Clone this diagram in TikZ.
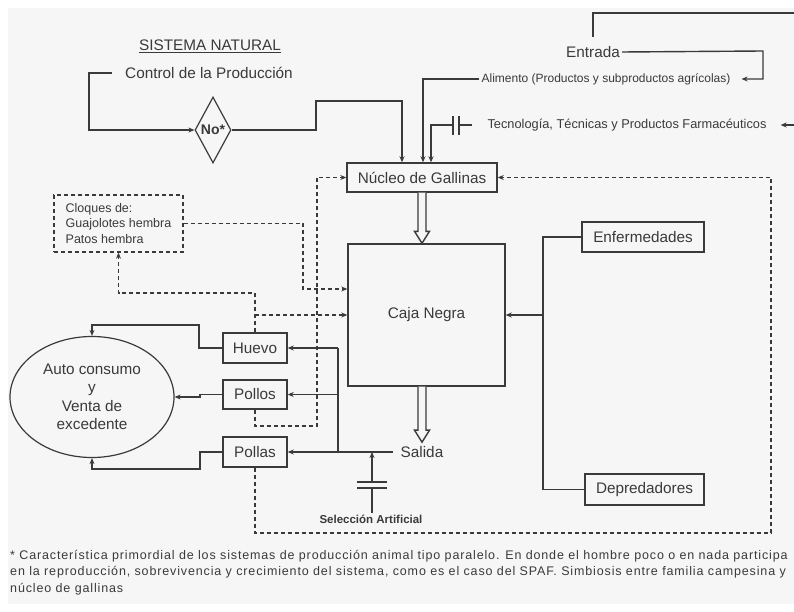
\documentclass[tikz,border=0pt]{standalone}
\usepackage{fontspec}
\setmainfont{Liberation Sans}
\usetikzlibrary{shapes.geometric,arrows.meta}
\definecolor{ink}{RGB}{58,58,58}
\definecolor{paper}{RGB}{246,246,246}
\tikzset{
  ln/.style={draw=ink, line width=1.4pt},
  arr/.style={ln, -{Stealth[length=6pt,width=5pt]}},
  dsh/.style={draw=ink, line width=1.4pt, dash pattern=on 4pt off 3pt},
  darr/.style={dsh, -{Stealth[length=6pt,width=5pt]}},
  big/.style={font=\fontsize{15.3}{18}\selectfont},
  lbl/.style={big, text=ink, inner sep=0pt},
  box/.style={big, draw=ink, line width=1.4pt, text=ink, inner sep=0pt},
  smalltxt/.style={text=ink, inner sep=0pt, font=\fontsize{12}{14}\selectfont},
  hollow/.style={ln, fill=paper, line join=miter},
}
\begin{document}
\begin{tikzpicture}[x=1pt,y=-1pt]
  \clip (0,0) rectangle (794,612);
  \fill[white] (0,0) rectangle (794,612);
  \fill[paper] (8,8) rectangle (794,604);

  % headings
  \node[lbl] (title) at (210,46) {\underline{SISTEMA NATURAL}};
  \node[lbl, inner xsep=13pt] (ctrl) at (209,73) {Control de la Producción};
  \node[draw=ink, line width=1.2pt, shape=diamond, minimum width=36pt,
        minimum height=66pt, inner sep=0pt, text=ink,
        font=\bfseries\fontsize{14}{16}\selectfont] (no) at (213,130) {No*};

  % inputs
  \node[lbl, inner xsep=2pt, inner ysep=9.5pt] (entrada) at (593,52) {Entrada};
  \node[smalltxt, inner xsep=2pt] (alim) at (606,79) {Alimento (Productos y subproductos agrícolas)};
  \node[smalltxt, font=\fontsize{12.8}{14}\selectfont] (tec) at (627,125) {Tecnología, Técnicas y Productos Farmacéuticos};
  \coordinate (edgeT) at (800,13);
  \coordinate (edgeR) at (800,125);

  % main blocks
  \node[box, minimum width=150pt, minimum height=29pt] (nucleo) at (422,177.5) {Núcleo de Gallinas};
  \node[box, minimum width=157pt, minimum height=142pt] (caja) at (426.5,315) {Caja Negra};
  \node[box, minimum width=122pt, minimum height=30pt] (enf) at (643,237) {Enfermedades};
  \node[box, minimum width=119pt, minimum height=31pt] (depr) at (644.5,489.5) {Depredadores};
  \node[lbl, inner xsep=8pt, inner ysep=4pt] (salida) at (422,452) {Salida};
  \node[smalltxt, inner ysep=2pt, font=\bfseries\fontsize{11.5}{13}\selectfont] (sel) at (371,519) {Selección Artificial};

  % products
  \node[box, minimum width=64pt, minimum height=30pt] (huevo) at (255,348) {Huevo};
  \node[box, minimum width=64pt, minimum height=29pt] (pollos) at (255,394.5) {Pollos};
  \node[box, minimum width=64pt, minimum height=30pt] (pollas) at (255,452) {Pollas};
  \node[big, draw=ink, line width=1.2pt, shape=ellipse, minimum width=164pt,
        minimum height=121pt, inner sep=0pt, text=ink, align=center,
        font=\fontsize{15.3}{18.5}\selectfont] (ell) at (92,397)
        {Auto consumo\\y\\Venta de\\excedente};
  \node[dsh, text=ink, align=left, minimum width=129pt, minimum height=57pt,
        inner sep=0pt, font=\fontsize{12.5}{15.5}\selectfont] (cloq) at (118.5,223.5)
        {Cloques de:\\Guajolotes hembra\\Patos hembra};

  % control loop
  \draw[arr] (ctrl.west) -- (89,73) |- (no.west);
  \draw[arr] (no.east) -| (316,101) -| ([xshift=-20pt]nucleo.north);

  % input lines
  \draw[ln] (edgeT) -| (entrada.north);
  \draw[arr] (entrada.east) -- (763,51) |- ([xshift=9pt]alim.east);
  \draw[arr] (alim.west) -| ([xshift=1pt]nucleo.north);
  \draw[arr] (edgeR) -- ([xshift=14pt]tec.east);
  \draw[ln] ([xshift=-15pt]tec.west) -- (459,125);
  \draw[ln] (459,116) -- (459,135) (453,116) -- (453,135);
  \draw[arr] (453,125) -| ([xshift=9pt]nucleo.north);

  % wide flow arrows
  \draw[hollow] ([xshift=-4pt]nucleo.south) -- ([xshift=-4pt,yshift=12pt]nucleo.south |- caja.north)
     -- ([xshift=-7.5pt,yshift=12pt]nucleo.south |- caja.north) -- (nucleo.south |- caja.north)
     -- ([xshift=7.5pt,yshift=12pt]nucleo.south |- caja.north)
     -- ([xshift=4pt,yshift=12pt]nucleo.south |- caja.north) -- ([xshift=4pt]nucleo.south);
  \draw[hollow] ([xshift=-4pt]nucleo.south |- caja.south) -- ([xshift=-4pt,yshift=12pt]salida.north)
     -- ([xshift=-7.5pt,yshift=12pt]salida.north) -- (salida.north)
     -- ([xshift=7.5pt,yshift=12pt]salida.north)
     -- ([xshift=4pt,yshift=12pt]salida.north) -- ([xshift=4pt]nucleo.south |- caja.south);

  % environment
  \draw[ln] (enf.west) -| (depr.west -| 543,0) -- (depr.west);
  \draw[arr] (caja.east -| 543,0) -- (caja.east);

  % outputs
  \coordinate (trunk) at (338,0);
  \draw[ln] (salida.west) -- (salida.west -| trunk) -- (huevo.east -| trunk);
  \draw[arr] (huevo.east -| trunk) -- (huevo.east);
  \draw[arr] (pollos.east -| trunk) -- (pollos.east);
  \draw[arr] (pollas.east -| trunk) -- (pollas.east);

  % artificial selection
  \draw[ln] (sel.north -| 372,0) -- (372,488);
  \draw[ln] (357,488) -- (387,488) (357,482) -- (387,482);
  \draw[arr] (372,482) -- (salida.west -| 372,0);

  % to consumption
  \draw[arr] (huevo.west) -- (199,348) -- (199,325) -| (ell.north);
  \draw[arr] (pollos.west) -- (200,394.5) -- (200,397) -- (ell.east);
  \draw[arr] (pollas.west) -- (200,452) -- (200,469) -| (ell.south);

  % reproduction feedback
  \draw[darr] (cloq.east) -| (303,289) -- (caja.west |- 0,289);
  \draw[darr] (huevo.north) -- (huevo.north |- 0,293) -| (cloq.south);
  \draw[darr] (huevo.north |- 0,315) -- (caja.west |- 0,315);
  \draw[darr] (pollos.south) |- (317,426) |- (nucleo.west);
  \draw[darr] (pollas.south) |- (771,533) |- (nucleo.east);

  % footnote
  \begin{scope}[every node/.style={smalltxt, anchor=base west,
      font=\fontsize{12.5}{15}\selectfont\addfontfeature{LetterSpace=6.9}}]
    \node (fn1) at (10,559) {* Característica primordial de los sistemas de producción animal tipo paralelo. En donde el hombre poco o en nada participa};
    \node (fn2) at (10,575.5) {en la reproducción, sobrevivencia y crecimiento del sistema, como es el caso del SPAF. Simbiosis entre familia campesina y};
    \node (fn3) at (10,592) {núcleo de gallinas};
  \end{scope}
\end{tikzpicture}
\end{document}
